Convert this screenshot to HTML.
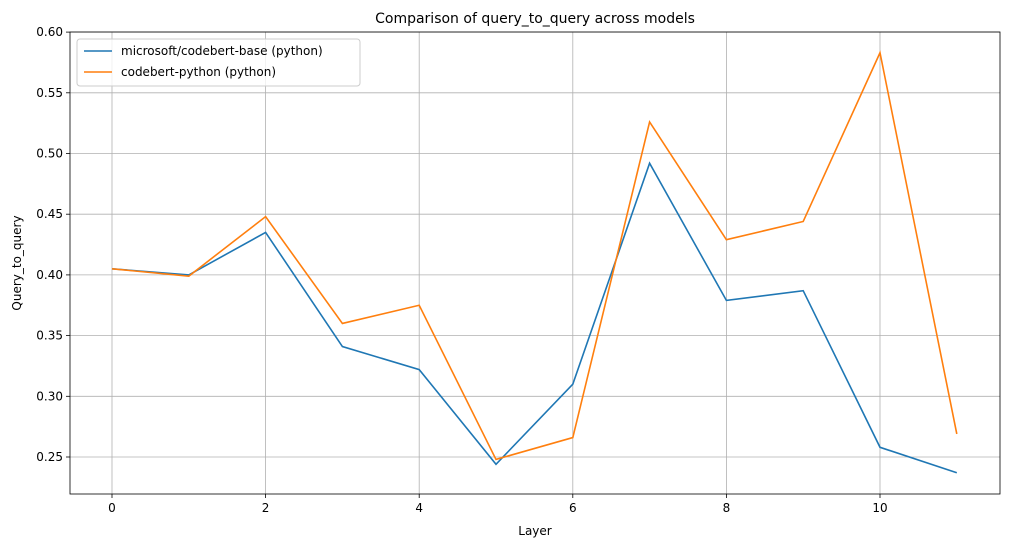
<!DOCTYPE html>
<html><head><meta charset="utf-8"><style>
body{margin:0;background:#fff;font-family:"Liberation Sans","DejaVu Sans",sans-serif;}
svg text{font-family:"DejaVu Sans","Liberation Sans",sans-serif;}
</style></head><body>
<svg id="chart" width="1010" height="547"></svg>
<script>
const layers=[0,1,2,3,4,5,6,7,8,9,10,11];
const codebertBase=[0.405,0.400,0.435,0.341,0.322,0.244,0.310,0.492,0.379,0.387,0.258,0.237];
const codebertPython=[0.405,0.399,0.448,0.360,0.375,0.248,0.266,0.526,0.429,0.444,0.583,0.269];
const xTicks=[0,2,4,6,8,10];
const yTicks=[0.25,0.30,0.35,0.40,0.45,0.50,0.55,0.60];
const L=70,R=1000,T=32,B=494;
const xs=v=>112+(v-0)*76.8;
const ys=v=>457-(v-0.25)/0.05*60.7;
const svg=document.getElementById('chart');
const NS='http://www.w3.org/2000/svg';
function mk(tag,attrs,txt){const e=document.createElementNS(NS,tag);for(const k in attrs)e.setAttribute(k,attrs[k]);if(txt!==undefined)e.textContent=txt;svg.appendChild(e);return e;}
xTicks.forEach(t=>{const x=xs(t);
 let g=mk('line',{x1:x,x2:x,y1:T,y2:B,stroke:'#b0b0b0','stroke-width':0.8});
 
 mk('line',{x1:x,x2:x,y1:B,y2:B+4,stroke:'#000','stroke-width':0.8});
 let l=mk('text',{x:x,y:B+18,'text-anchor':'middle','font-size':12},t);
 });
yTicks.forEach(t=>{const y=ys(t);
 let g=mk('line',{x1:L,x2:R,y1:y,y2:y,stroke:'#b0b0b0','stroke-width':0.8});
 
 mk('line',{x1:L-4,x2:L,y1:y,y2:y,stroke:'#000','stroke-width':0.8});
 let l=mk('text',{x:L-7,y:y+4,'text-anchor':'end','font-size':12},t.toFixed(2));
 });
function series(vals,color,name){
 const p=mk('polyline',{points:vals.map((v,i)=>xs(layers[i])+','+ys(v)).join(' '),fill:'none',stroke:color,'stroke-width':1.6});
 }
series(codebertBase,'#1f77b4','line-codebert-base');
series(codebertPython,'#ff7f0e','line-codebert-python');
let fr=mk('rect',{x:L,y:T,width:R-L,height:B-T,fill:'none',stroke:'#000','stroke-width':0.8});

let ti=mk('text',{x:(L+R)/2,y:23,'text-anchor':'middle','font-size':14},'Comparison of query_to_query across models');

let xl=mk('text',{x:(L+R)/2,y:535,'text-anchor':'middle','font-size':12},'Layer');

let yl=mk('text',{x:21,y:(T+B)/2,'text-anchor':'middle','font-size':12,transform:'rotate(-90 21 '+((T+B)/2)+')'},'Query_to_query');

let lg=mk('rect',{x:77,y:39,width:283,height:47,fill:'#fff','fill-opacity':0.8,stroke:'#ccc',rx:3});

[['microsoft/codebert-base (python)','#1f77b4',55],['codebert-python (python)','#ff7f0e',76]].forEach(([t,c,y])=>{
 mk('line',{x1:84,x2:112,y1:y-4,y2:y-4,stroke:c,'stroke-width':1.6});
 let e=mk('text',{x:121,y:y,'font-size':12},t);
 });
</script>
</body></html>
